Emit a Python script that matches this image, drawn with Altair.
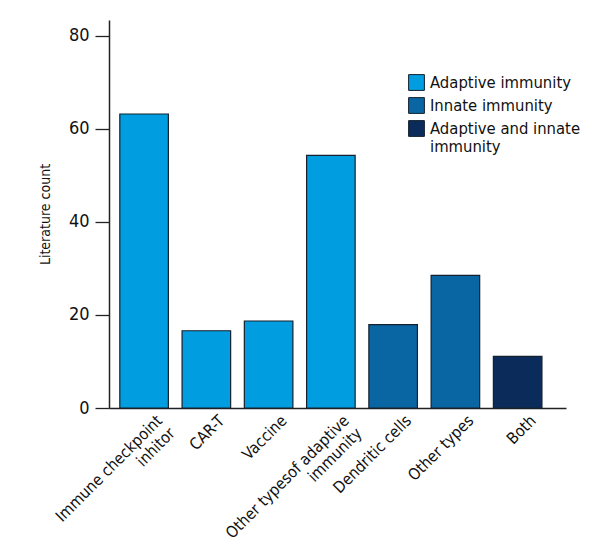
import altair as alt
import pandas as pd

categories = ["Immune checkpoint\ninhitor", "CAR-T", "Vaccine",
              "Other typesof adaptive\nimmunity", "Dendritic cells",
              "Other types", "Both"]
counts = [63.2, 16.6, 18.7, 54.3, 17.9, 28.5, 11.1]
groups = ["Adaptive immunity", "Adaptive immunity", "Adaptive immunity",
          "Adaptive immunity", "Innate immunity", "Innate immunity",
          "Adaptive and innate\nimmunity"]
group_order = ["Adaptive immunity", "Innate immunity", "Adaptive and innate\nimmunity"]
group_colors = ["#009ee0", "#0a66a3", "#0b2c5b"]
y_ticks = [0, 20, 40, 60, 80]

df = pd.DataFrame({"cat": categories, "count": counts, "group": groups})

FONT = "Liberation Sans Narrow, DejaVu Sans Condensed, Roboto, sans-serif"

chart = alt.Chart(df).mark_bar(stroke="#14202e", strokeWidth=1.2).encode(
    x=alt.X("cat:N", sort=categories, title=None,
            scale=alt.Scale(paddingInner=0.22, paddingOuter=0.28, align=0.31),
            axis=alt.Axis(labelAngle=-45, labelAlign="right", labelBaseline="top",
                          labelExpr="split(datum.label, '\\n')",
                          labelFontSize=16, labelFont=FONT, labelColor="#111",
                          ticks=False, labelPadding=4, labelLineHeight=18,
                          labelOffset=10, labelLimit=400, labelOverlap=False,
                          domainColor="#222", domainWidth=1.5)),
    y=alt.Y("count:Q", title="Literature count",
            scale=alt.Scale(domain=[0, 83.4], nice=False),
            axis=alt.Axis(values=y_ticks, grid=False, tickSize=14, tickColor="#222",
                          tickWidth=1.3, labelFontSize=18, labelFont=FONT,
                          labelColor="#111", labelPadding=6,
                          titleFont=FONT, titleFontSize=14, titleFontWeight="normal",
                          titleColor="#111", titlePadding=16,
                          domainColor="#222", domainWidth=1.5)),
    color=alt.Color("group:N", scale=alt.Scale(domain=group_order, range=group_colors),
                    legend=alt.Legend(title=None, orient="none", legendX=299, legendY=54,
                                      symbolType="square", symbolSize=250,
                                      symbolStrokeColor="#14202e", symbolStrokeWidth=1,
                                      labelFont=FONT, labelFontSize=16.5, labelColor="#111",
                                      labelExpr="split(datum.label, '\\n')",
                                      rowPadding=2, labelOffset=5,
                                      labelLimit=300))
).properties(
    width=457, height=388,
    autosize=alt.AutoSizeParams(type="none"),
    padding={"left": 101, "top": 12, "right": 20, "bottom": 150},
).configure_view(stroke=None)

chart.save("out.html", embed_options={"renderer": "svg", "actions": False})
